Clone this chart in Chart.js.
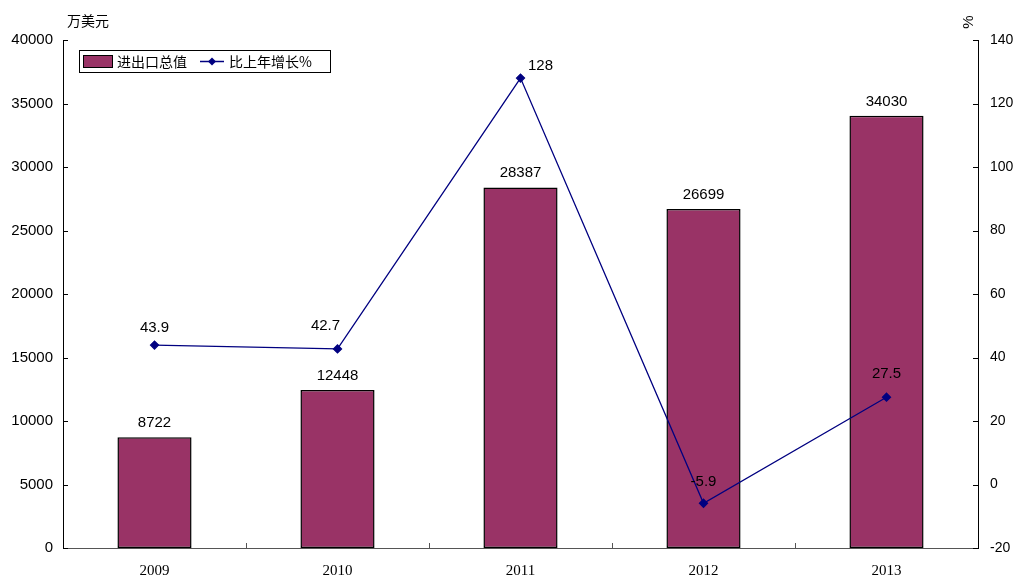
<!DOCTYPE html>
<html>
<head>
<meta charset="utf-8">
<script src="https://cdn.jsdelivr.net/npm/chart.js@4"></script>
<style>
  body { margin: 0; background: #fff; }
  #wrap { width: 1014px; height: 576px; }
</style>
</head>
<body>
<div id="wrap"><canvas id="chartCanvas" width="1014" height="576"></canvas></div>
<script>
// Data
const years = ['2009', '2010', '2011', '2012', '2013'];
const tradeTotal = [8722, 12448, 28387, 26699, 34030];
const growthRate = [43.9, 42.7, 128, -5.9, 27.5];

const barColor = '#993366';
const lineColor = '#000080';
const sansFont = "'Liberation Sans', Arial, sans-serif";
const cjkFont = "'Noto Sans CJK SC', sans-serif";

const ctx = document.getElementById('chartCanvas').getContext('2d');

// ticks pointing inward, value labels, legend box and unit captions
const decorPlugin = {
  id: 'decor',
  afterDraw(chart) {
    const c = chart.ctx;
    const area = chart.chartArea;
    const yL = chart.scales.y;
    const yR = chart.scales.y1;
    const x = chart.scales.x;

    c.save();
    c.lineWidth = 1;
    c.strokeStyle = '#000';
    c.beginPath();
    yL.ticks.forEach(t => {
      const py = Math.round(yL.getPixelForValue(t.value)) + 0.5;
      c.moveTo(area.left, py);
      c.lineTo(area.left + 5, py);
    });
    yR.ticks.forEach(t => {
      const py = Math.round(yR.getPixelForValue(t.value)) + 0.5;
      c.moveTo(area.right, py);
      c.lineTo(area.right - 5, py);
    });
    c.stroke();
    c.strokeStyle = '#555';
    c.beginPath();
    for (let i = 1; i < years.length; i++) {
      const px = Math.round((x.getPixelForValue(i - 1) + x.getPixelForValue(i)) / 2) + 0.5;
      c.moveTo(px, area.bottom);
      c.lineTo(px, area.bottom - 5);
    }
    c.stroke();

    // value labels
    c.fillStyle = '#000';
    c.font = '15px ' + sansFont;
    c.textAlign = 'center';
    c.textBaseline = 'alphabetic';
    chart.getDatasetMeta(0).data.forEach((bar, i) => {
      c.fillText(String(tradeTotal[i]), bar.x, bar.y - 10);
    });
    const shiftX = [0, -12, 20, 0, 0];
    const shiftY = [-13, -19, -8, -17, -19];
    chart.getDatasetMeta(1).data.forEach((pt, i) => {
      c.fillText(String(growthRate[i]), pt.x + shiftX[i], pt.y + shiftY[i]);
    });

    // legend
    c.strokeStyle = '#000';
    c.strokeRect(79.5, 50.5, 251, 22);
    c.fillStyle = barColor;
    c.fillRect(83.5, 55.5, 29, 12);
    c.strokeRect(83.5, 55.5, 29, 12);
    c.fillStyle = '#000';
    c.font = '14px ' + cjkFont;
    c.textAlign = 'left';
    c.textBaseline = 'middle';
    c.fillText('进出口总值', 117, 62);
    c.strokeStyle = lineColor;
    c.lineWidth = 1.5;
    c.beginPath();
    c.moveTo(200, 61.5);
    c.lineTo(224, 61.5);
    c.stroke();
    c.fillStyle = lineColor;
    c.beginPath();
    c.moveTo(212, 57.5); c.lineTo(216, 61.5); c.lineTo(212, 65.5); c.lineTo(208, 61.5);
    c.closePath();
    c.fill();
    c.fillStyle = '#000';
    c.fillText('比上年增长%', 229, 62);

    // unit captions
    c.font = '14px ' + cjkFont;
    c.fillText('万美元', 67, 21);
    c.translate(969, 22);
    c.rotate(-Math.PI / 2);
    c.textAlign = 'center';
    c.font = '15px ' + sansFont;
    c.fillText('%', 0, 0);
    c.restore();
  }
};

new Chart(ctx, {
  data: {
    labels: years,
    datasets: [
      {
        type: 'bar',
        label: '进出口总值',
        data: tradeTotal,
        backgroundColor: barColor,
        borderColor: '#000',
        borderWidth: 1.5,
        borderSkipped: false,
        categoryPercentage: 1,
        barPercentage: 0.405,
        yAxisID: 'y',
        order: 2
      },
      {
        type: 'line',
        label: '比上年增长%',
        data: growthRate,
        borderColor: lineColor,
        backgroundColor: lineColor,
        borderWidth: 1.3,
        pointStyle: 'rectRot',
        pointRadius: 4,
        pointBackgroundColor: lineColor,
        pointBorderColor: lineColor,
        tension: 0,
        yAxisID: 'y1',
        order: 1
      }
    ]
  },
  options: {
    responsive: false,
    animation: false,
    layout: { padding: { top: 40, left: 0, right: 0, bottom: 0 } },
    plugins: {
      legend: { display: false },
      tooltip: { enabled: false }
    },
    scales: {
      x: {
        offset: true,
        grid: { display: false, drawTicks: false },
        border: { display: true, color: '#555', width: 1 },
        ticks: {
          padding: 14,
          color: '#000',
          font: { family: "'Liberation Serif', 'DejaVu Serif', serif", size: 15 }
        },
        afterFit(s) { s.height = 28; }
      },
      y: {
        position: 'left',
        min: 0,
        max: 40000,
        grid: { display: false, drawTicks: false },
        border: { display: true, color: '#000', width: 1 },
        ticks: {
          stepSize: 5000,
          padding: 10,
          color: '#000',
          font: { family: sansFont, size: 15 },
          callback: v => String(v)
        },
        afterFit(s) { s.width = 63; }
      },
      y1: {
        position: 'right',
        min: -20,
        max: 140,
        grid: { display: false, drawTicks: false },
        border: { display: true, color: '#000', width: 1 },
        ticks: {
          stepSize: 20,
          padding: 12,
          color: '#000',
          font: { family: sansFont, size: 14 },
          callback: v => String(v)
        },
        afterFit(s) { s.width = 36; }
      }
    }
  },
  plugins: [decorPlugin]
});
</script>
</body>
</html>
